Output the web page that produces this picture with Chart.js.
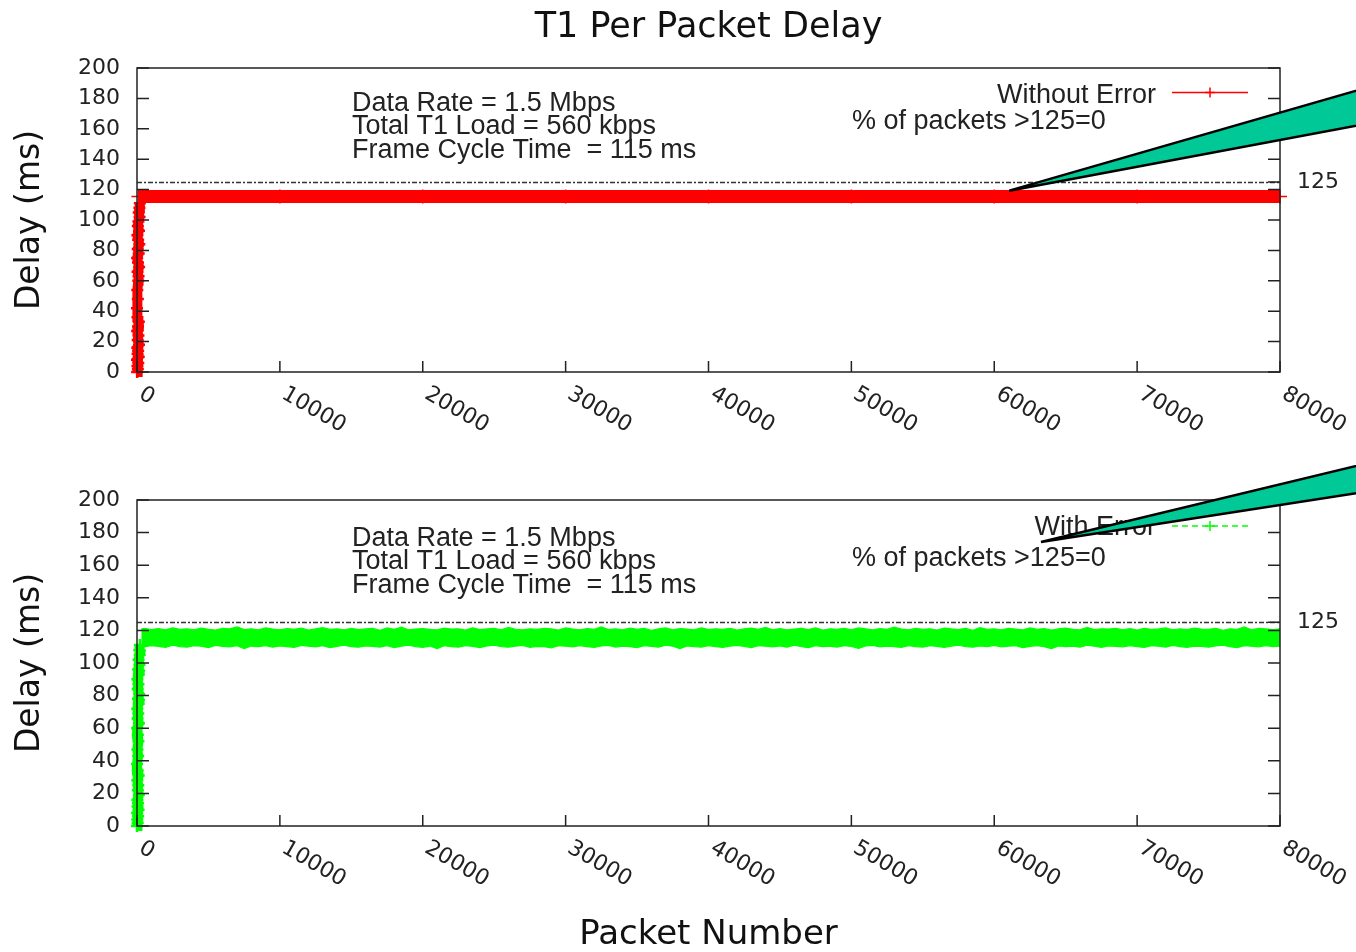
<!DOCTYPE html>
<html>
<head>
<meta charset="utf-8">
<title>T1 Per Packet Delay</title>
<script src="https://cdn.jsdelivr.net/npm/chart.js@4.4.0/dist/chart.umd.min.js"></script>
<style>
  body { margin: 0; background: #fff; }
  canvas { position: absolute; left: 0; }
  #top { top: 0; }
  #bottom { top: 460px; }
</style>
</head>
<body>
<canvas id="top" width="1356" height="460"></canvas>
<canvas id="bottom" width="1356" height="492"></canvas>
<script>
// axis ticks
const xTickValues = [0, 10000, 20000, 30000, 40000, 50000, 60000, 70000, 80000];
const yTickValues = [0, 20, 40, 60, 80, 100, 120, 140, 160, 180, 200];
const threshold = 125;

const infoLines = ['Data Rate = 1.5 Mbps', 'Total T1 Load = 560 kbps', 'Frame Cycle Time  = 115 ms'];
const percentLabel = '% of packets >125=0';

// without error: warm-up packets, then steady delay
const redRampX = [10, 60, 30, 90, 0, 120, 40, 80, 20, 140, 50, 100, 10, 70, 130, 30, 0, 60, 20, 90,
                  110, 40, 150, 70, 10, 120, 50, 160, 80, 30, 140, 60, 100, 180, 120, 170, 200];
const redRampY = [0, 2, 4, 6, 8, 10, 12, 14, 16, 18, 21, 24, 27, 30, 33, 36, 42, 48, 54, 60,
                  63, 66, 69, 72, 75, 78, 81, 84, 87, 90, 93, 96, 99, 102, 105, 108, 111];
const redX = [100, 10000, 20000, 30000, 40000, 50000, 60000, 70000, 80000];
const redY = [115.5, 115.5, 115.5, 115.5, 115.5, 115.5, 115.5, 115.5, 115.5];

// with error: warm-up packets, then upper / lower edge of the delay band
const greenRampX = [0, 50, 20, 80, 10, 110, 40, 70, 30, 130, 60, 90, 20, 120, 50, 0, 80, 30, 100, 60,
                    10, 140, 40, 90, 20, 120, 70, 150, 50, 100, 30, 130, 80, 170, 110, 190, 160, 200];
const greenRampY = [0, 2, 4, 6, 8, 10, 12, 14, 16, 19, 22, 25, 28, 31, 34, 38, 43, 47, 52, 56,
                    60, 63, 66, 69, 72, 75, 78, 81, 84, 87, 90, 93, 96, 99, 102, 105, 108, 111];
const greenX = [300, 500, 1000, 1500, 2000, 2500, 3000, 3500, 4000, 4500,
                5000, 5500, 6000, 6500, 7000, 7500, 8000, 8500, 9000, 9500,
                10000, 10500, 11000, 11500, 12000, 12500, 13000, 13500, 14000, 14500,
                15000, 15500, 16000, 16500, 17000, 17500, 18000, 18500, 19000, 19500,
                20000, 20500, 21000, 21500, 22000, 22500, 23000, 23500, 24000, 24500,
                25000, 25500, 26000, 26500, 27000, 27500, 28000, 28500, 29000, 29500,
                30000, 30500, 31000, 31500, 32000, 32500, 33000, 33500, 34000, 34500,
                35000, 35500, 36000, 36500, 37000, 37500, 38000, 38500, 39000, 39500,
                40000, 40500, 41000, 41500, 42000, 42500, 43000, 43500, 44000, 44500,
                45000, 45500, 46000, 46500, 47000, 47500, 48000, 48500, 49000, 49500,
                50000, 50500, 51000, 51500, 52000, 52500, 53000, 53500, 54000, 54500,
                55000, 55500, 56000, 56500, 57000, 57500, 58000, 58500, 59000, 59500,
                60000, 60500, 61000, 61500, 62000, 62500, 63000, 63500, 64000, 64500,
                65000, 65500, 66000, 66500, 67000, 67500, 68000, 68500, 69000, 69500,
                70000, 70500, 71000, 71500, 72000, 72500, 73000, 73500, 74000, 74500,
                75000, 75500, 76000, 76500, 77000, 77500, 78000, 78500, 79000, 79500,
                80000];
const greenUpper = [120.8, 121.3, 120.5, 121.1, 120.3, 121.6, 120.7, 121.0, 120.4, 121.4,
                    120.6, 120.2, 121.2, 120.9, 122.1, 120.5, 121.0, 120.3, 121.5, 120.8,
                    120.4, 121.1, 120.7, 121.4, 120.2, 120.9, 121.7, 120.6, 121.0, 120.3,
                    121.3, 120.5, 120.9, 121.2, 120.1, 121.5, 120.7, 122.0, 120.4, 120.8,
                    121.1, 120.6, 120.3, 121.4, 120.8, 121.0, 120.2, 121.6, 120.5, 120.9,
                    121.2, 120.4, 121.8, 120.7, 120.3, 121.0, 120.6, 121.3, 120.9, 120.2,
                    121.5, 120.8, 120.4, 121.1, 120.6, 122.2, 120.5, 121.0, 120.3, 121.4,
                    120.7, 121.2, 120.1, 120.9, 121.5, 120.4, 121.1, 120.8, 120.3, 121.6,
                    120.5, 121.0, 120.7, 121.3, 120.2, 120.9, 121.4, 120.6, 121.9, 120.4,
                    121.1, 120.3, 120.8, 121.2, 120.5, 121.6, 120.2, 121.0, 120.7, 121.3,
                    120.4, 121.5, 120.9, 120.3, 121.1, 120.6, 122.0, 120.8, 120.4, 121.2,
                    120.7, 121.0, 120.2, 121.4, 120.9, 120.5, 121.3, 120.1, 121.7, 120.6,
                    121.0, 120.4, 121.2, 120.8, 120.3, 121.5, 120.7, 121.1, 120.2, 120.9,
                    121.4, 120.6, 120.3, 121.8, 120.5, 121.0, 120.8, 121.3, 120.4, 121.1,
                    120.2, 121.2, 120.7, 120.9, 121.6, 120.3, 121.0, 120.5, 121.4, 120.8,
                    120.6, 121.3, 120.1, 121.0, 120.7, 122.1, 120.4, 121.2, 120.9, 120.5,
                    121.0];
const greenLower = [110.4, 109.9, 110.7, 110.2, 109.6, 110.9, 110.1, 109.8, 110.6, 110.3,
                    109.5, 110.8, 110.2, 109.9, 110.6, 108.9, 110.4, 110.0, 110.7, 109.7,
                    110.5, 110.1, 109.6, 110.8, 110.3, 109.9, 110.6, 109.4, 110.2, 110.9,
                    110.0, 109.7, 110.5, 110.2, 109.8, 110.7, 109.5, 110.3, 110.9, 110.1,
                    109.6, 110.4, 108.8, 110.6, 110.0, 109.8, 110.7, 110.2, 109.5, 110.5,
                    110.9, 110.1, 109.7, 110.4, 110.8, 109.6, 110.2, 110.0, 109.3, 110.6,
                    110.3, 109.9, 110.7, 110.1, 109.5, 110.5, 110.8, 109.8, 110.4, 110.0,
                    109.4, 110.6, 110.2, 109.7, 110.9, 110.3, 108.9, 110.5, 110.1, 109.8,
                    110.7, 110.0, 109.6, 110.4, 110.8, 110.2, 109.5, 110.6, 110.3, 109.9,
                    110.5, 109.7, 110.9, 110.1, 109.4, 110.7, 110.0, 110.4, 109.8, 110.6,
                    110.2, 108.9, 110.5, 110.8, 109.9, 110.3, 110.0, 109.6, 110.7, 110.1,
                    109.8, 110.6, 110.2, 109.5, 110.4, 110.9, 110.1, 109.7, 110.5, 110.0,
                    110.8, 109.9, 110.3, 110.6, 109.4, 110.2, 110.7, 110.0, 108.8, 110.5,
                    110.1, 110.4, 109.7, 110.9, 110.3, 109.6, 110.5, 110.2, 109.9, 110.7,
                    110.0, 109.5, 110.6, 110.3, 109.8, 110.8, 110.1, 109.6, 110.4, 110.2,
                    109.7, 110.5, 110.9, 110.0, 109.4, 110.6, 110.3, 109.9, 110.7, 110.1,
                    110.4];

const pts = (xs, ys) => xs.map((x, i) => ({x: x, y: ys[i]}));

Chart.defaults.font.family = '"DejaVu Sans", sans-serif';
Chart.defaults.color = '#222';

// gnuplot style frame, inner ticks, labels, key and the callout
const decor = {
  id: 'decor',
  beforeDatasetsDraw(chart, args, o) {
    const {ctx, chartArea: a, scales: {y}} = chart;
    const py = Math.round(y.getPixelForValue(threshold)) + 0.5;
    ctx.save();
    ctx.strokeStyle = '#333';
    ctx.lineWidth = 1.3;
    ctx.setLineDash([5, 2, 2, 2]);
    ctx.beginPath();
    ctx.moveTo(a.left, py);
    ctx.lineTo(a.right, py);
    ctx.stroke();
    ctx.restore();
  },
  afterDatasetsDraw(chart, args, o) {
    const {ctx, chartArea: a, scales: {x, y}} = chart;
    ctx.save();
    ctx.strokeStyle = '#222';
    ctx.lineWidth = 1.5;
    ctx.strokeRect(a.left, a.top, a.right - a.left, a.bottom - a.top);
    ctx.beginPath();
    y.ticks.forEach(t => {
      const p = y.getPixelForValue(t.value);
      ctx.moveTo(a.left, p); ctx.lineTo(a.left + 12, p);
      ctx.moveTo(a.right, p); ctx.lineTo(a.right - 12, p);
    });
    const p125 = y.getPixelForValue(threshold);
    ctx.moveTo(a.right, p125); ctx.lineTo(a.right - 12, p125);
    x.ticks.forEach(t => {
      const p = x.getPixelForValue(t.value);
      ctx.moveTo(p, a.bottom); ctx.lineTo(p, a.bottom - 11);
    });
    ctx.stroke();

    // rotated x tick labels
    ctx.fillStyle = '#222';
    ctx.font = '22px "DejaVu Sans"';
    ctx.textAlign = 'left';
    ctx.textBaseline = 'top';
    x.ticks.forEach(t => {
      const p = x.getPixelForValue(t.value);
      ctx.save();
      ctx.translate(p + 9, a.bottom + 11);
      ctx.rotate(Math.PI / 6);
      ctx.fillText(String(t.value), 0, 0);
      ctx.restore();
    });
    ctx.textBaseline = 'middle';
    ctx.fillText(String(threshold), a.right + 17, p125);

    // info text
    ctx.font = '27px "Liberation Sans"';
    ctx.textBaseline = 'alphabetic';
    infoLines.forEach((s, i) => ctx.fillText(s, o.infoX, o.infoY + i * 23.3));
    ctx.fillText(percentLabel, o.pctX, o.pctY);

    // key
    ctx.textAlign = 'right';
    ctx.fillText(o.label, o.keyX, o.keyY);
    ctx.strokeStyle = o.color;
    ctx.lineWidth = 1.5;
    ctx.setLineDash(o.dash);
    ctx.beginPath();
    ctx.moveTo(o.keyX + 16, o.keyLineY);
    ctx.lineTo(o.keyX + 92, o.keyLineY);
    ctx.stroke();
    ctx.setLineDash([]);
    ctx.beginPath();
    ctx.moveTo(o.keyX + 49, o.keyLineY); ctx.lineTo(o.keyX + 59, o.keyLineY);
    ctx.moveTo(o.keyX + 54, o.keyLineY - 5); ctx.lineTo(o.keyX + 54, o.keyLineY + 5);
    ctx.stroke();
    ctx.restore();
  },
  afterDraw(chart, args, o) {
    const {ctx, scales: {x, y}} = chart;
    ctx.save();
    ctx.beginPath();
    o.callout.forEach((c, i) => {
      const px = x.getPixelForValue(c[0]), py = y.getPixelForValue(c[1]);
      if (i === 0) ctx.moveTo(px, py); else ctx.lineTo(px, py);
    });
    ctx.closePath();
    ctx.fillStyle = '#00C896';
    ctx.fill();
    ctx.strokeStyle = '#000';
    ctx.lineWidth = 2.5;
    ctx.stroke();
    ctx.restore();
  }
};

function makeOptions(cfg) {
  return {
    responsive: false,
    animation: false,
    layout: {padding: {left: 0, right: 76, top: cfg.padTop, bottom: 0}},
    plugins: {
      legend: {display: false},
      tooltip: {enabled: false},
      title: cfg.title,
      decor: cfg.decor
    },
    scales: {
      x: {
        type: 'linear', min: 0, max: 80000,
        afterBuildTicks: s => { s.ticks = xTickValues.map(v => ({value: v})); },
        afterFit: s => { s.height = cfg.xHeight; },
        ticks: {display: false},
        grid: {display: false, drawTicks: false},
        border: {display: false},
        title: cfg.xTitle
      },
      y: {
        min: 0, max: 200,
        afterBuildTicks: s => { s.ticks = yTickValues.map(v => ({value: v})); },
        afterFit: s => { s.width = 137; },
        ticks: {font: {size: 22}, color: '#222', padding: 17},
        grid: {display: false, drawTicks: false},
        border: {display: false},
        title: {display: true, text: 'Delay (ms)', color: '#111',
                font: {size: 33}, padding: {top: 11, bottom: 0}}
      }
    }
  };
}

function rampSet(xs, ys, color) {
  return {
    data: pts(xs, ys), showLine: true, borderColor: color, borderWidth: 10,
    pointStyle: 'cross', pointRadius: 6, pointBorderWidth: 2.5,
    pointBorderColor: color, clip: false
  };
}

new Chart(document.getElementById('top'), {
  type: 'line',
  data: {
    datasets: [
      {
        data: pts(redX, redY), borderColor: '#ff0000', borderWidth: 13,
        borderCapStyle: 'butt', pointStyle: 'cross', pointRadius: 7,
        pointBorderWidth: 1.5, pointBorderColor: '#ff0000', clip: false
      },
      rampSet(redRampX, redRampY, '#ff0000')
    ]
  },
  options: makeOptions({
    padTop: 0,
    xHeight: 88,
    title: {display: true, text: 'T1 Per Packet Delay', fullSize: false, color: '#111',
            font: {size: 35, weight: 'normal'}, padding: {top: 7, bottom: 19}},
    xTitle: {display: false},
    decor: {
      infoX: 352, infoY: 111, pctX: 852, pctY: 129,
      label: 'Without Error', keyX: 1156, keyY: 103, keyLineY: 92.5,
      color: '#ff0000', dash: [],
      callout: [[61050, 119.3], [88400, 193.4], [88400, 167.4]]
    }
  }),
  plugins: [decor]
});

new Chart(document.getElementById('bottom'), {
  type: 'line',
  data: {
    datasets: [
      {
        data: pts(greenX, greenUpper), borderColor: '#00ff00', borderWidth: 1.2,
        pointRadius: 0, fill: false
      },
      {
        data: pts(greenX, greenLower), borderColor: '#00ff00', borderWidth: 1.2,
        backgroundColor: '#00ff00', pointRadius: 0, fill: '-1'
      },
      rampSet(greenRampX, greenRampY, '#00ff00')
    ]
  },
  options: makeOptions({
    padTop: 40,
    xHeight: 126,
    title: {display: false},
    xTitle: {display: true, text: 'Packet Number', color: '#111',
             font: {size: 34, lineHeight: 1}, padding: {top: 0, bottom: 0}},
    decor: {
      infoX: 352, infoY: 86, pctX: 852, pctY: 106,
      label: 'With Error', keyX: 1156, keyY: 75, keyLineY: 66,
      color: '#00ff00', dash: [6, 4],
      callout: [[63270, 174.2], [88400, 227.4], [88400, 208.3]]
    }
  }),
  plugins: [decor]
});
</script>
</body>
</html>
